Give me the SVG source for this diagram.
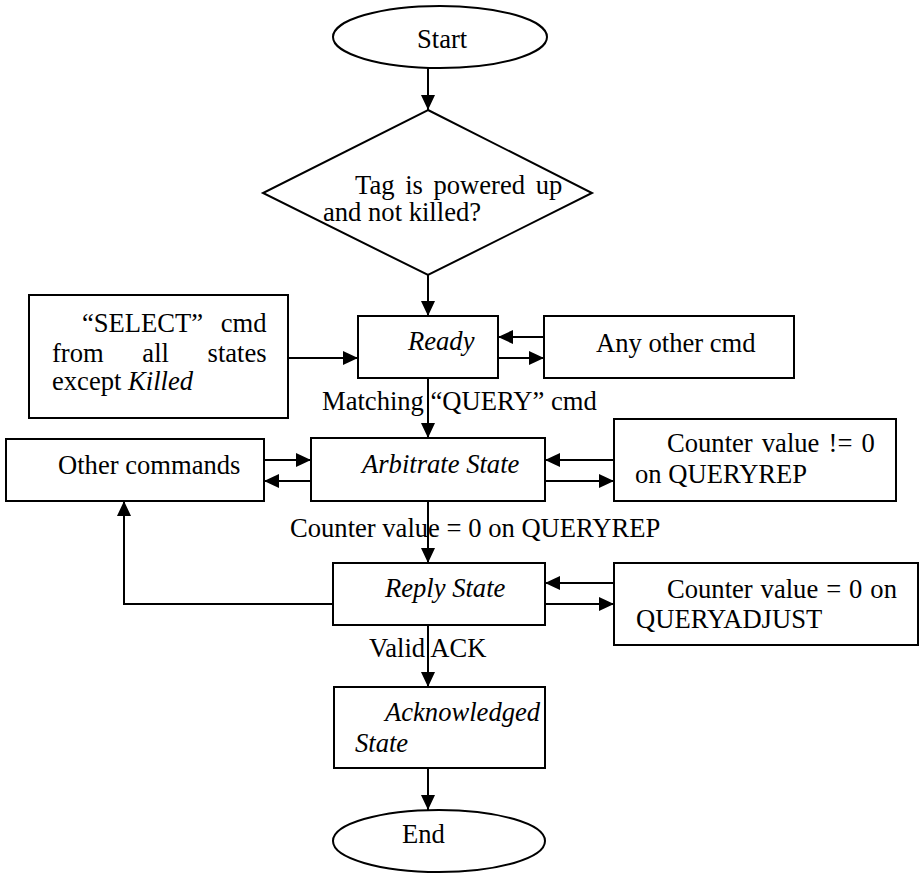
<svg xmlns="http://www.w3.org/2000/svg" width="922" height="873" viewBox="0 0 922 873">
<style>
.s{fill:#fff;stroke:#000;stroke-width:2}
.t{font-family:"Liberation Serif","Times New Roman",serif;font-size:26.6px;fill:#000}
.i{font-style:italic}
.c{fill:none;stroke:#000;stroke-width:2}
</style>
<defs>
<marker id="ah" markerUnits="userSpaceOnUse" markerWidth="15" markerHeight="15" refX="15" refY="7" orient="auto">
<path d="M0,0 L15,7 L0,14 z" fill="#000"/>
</marker>
</defs>
<rect width="922" height="873" fill="#fff"/>
<g id="connectors">
<path class="c" d="M428,68 V110" marker-end="url(#ah)"/>
<path class="c" d="M428,275 V316" marker-end="url(#ah)"/>
<path class="c" d="M288,358 H358" marker-end="url(#ah)"/>
<path class="c" d="M544,337 H498" marker-end="url(#ah)"/>
<path class="c" d="M498,358 H544" marker-end="url(#ah)"/>
<path class="c" d="M428,378 V438" marker-end="url(#ah)"/>
<path class="c" d="M264,460 H311" marker-end="url(#ah)"/>
<path class="c" d="M311,481 H264" marker-end="url(#ah)"/>
<path class="c" d="M614,460 H545" marker-end="url(#ah)"/>
<path class="c" d="M545,481 H614" marker-end="url(#ah)"/>
<path class="c" d="M428,501 V563" marker-end="url(#ah)"/>
<path class="c" d="M614,583 H545" marker-end="url(#ah)"/>
<path class="c" d="M545,604 H614" marker-end="url(#ah)"/>
<path class="c" d="M333,604 H124 V501" marker-end="url(#ah)"/>
<path class="c" d="M428,625 V687" marker-end="url(#ah)"/>
<path class="c" d="M428,768 V810" marker-end="url(#ah)"/>
</g>
<g id="start">
<ellipse class="s" cx="440" cy="37" rx="107" ry="31"/>
<text class="t" x="417" y="48">Start</text>
</g>
<g id="decision">
<polygon class="s" points="428,110 592,193 428,275 263,193"/>
<text class="t" x="355" y="194" word-spacing="4">Tag is powered up</text>
<text class="t" x="323" y="221">and not killed?</text>
</g>
<g id="select">
<rect class="s" x="29" y="295" width="259" height="123"/>
<text class="t" x="82" y="332" word-spacing="11">“SELECT” cmd</text>
<text class="t" x="52" y="362" word-spacing="32">from all states</text>
<text class="t" x="52" y="390">except <tspan class="i">Killed</tspan></text>
</g>
<g id="ready">
<rect class="s" x="358" y="316" width="140" height="62"/>
<text class="t i" x="408" y="350">Ready</text>
</g>
<g id="anyother">
<rect class="s" x="544" y="316" width="250" height="62"/>
<text class="t" x="596" y="352">Any other cmd</text>
</g>
<text class="t" x="322" y="410">Matching “QUERY” cmd</text>
<g id="othercommands">
<rect class="s" x="6" y="439" width="258" height="62"/>
<text class="t" x="58" y="474">Other commands</text>
</g>
<g id="arbitrate">
<rect class="s" x="311" y="438" width="234" height="63"/>
<text class="t i" x="362" y="473">Arbitrate State</text>
</g>
<g id="counternonzero">
<rect class="s" x="614" y="419" width="282" height="82"/>
<text class="t" x="667" y="452" word-spacing="2.5">Counter value != 0</text>
<text class="t" x="635" y="483">on QUERYREP</text>
</g>
<text class="t" x="290" y="537">Counter value = 0 on QUERYREP</text>
<g id="reply">
<rect class="s" x="333" y="563" width="212" height="62"/>
<text class="t i" x="385" y="597">Reply State</text>
</g>
<g id="queryadjust">
<rect class="s" x="614" y="563" width="304" height="82"/>
<text class="t" x="667" y="598" word-spacing="1.3">Counter value = 0 on</text>
<text class="t" x="636" y="628">QUERYADJUST</text>
</g>
<text class="t" x="369" y="657">Valid ACK</text>
<g id="acknowledged">
<rect class="s" x="334" y="687" width="211" height="81"/>
<text class="t i" x="385" y="721">Acknowledged</text>
<text class="t i" x="355" y="752">State</text>
</g>
<g id="end">
<ellipse class="s" cx="439" cy="841" rx="106" ry="31"/>
<text class="t" x="402" y="843">End</text>
</g>
</svg>
